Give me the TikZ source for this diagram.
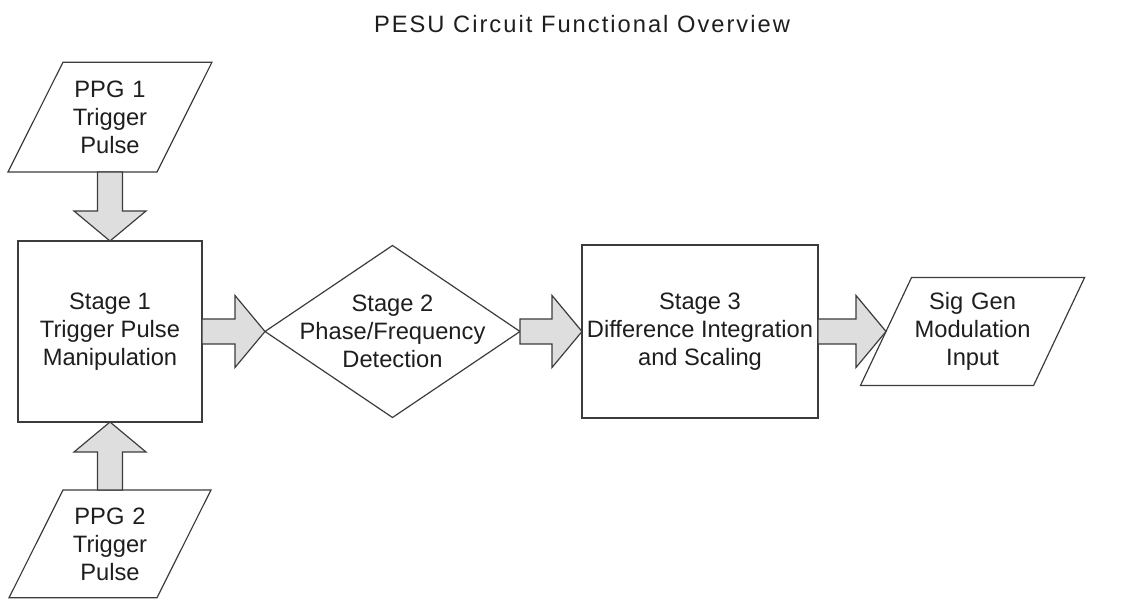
\documentclass[tikz,border=0pt]{standalone}
\usepackage{fontspec}
\setmainfont{Liberation Sans}
\usepackage{tikz}
\usetikzlibrary{positioning,shapes.geometric,calc}
\definecolor{pesuline}{HTML}{3C3C3C}
\definecolor{pesufill}{HTML}{DEDEDE}
\definecolor{pesutext}{HTML}{1E1E1E}
% fat block arrow from #1 to the tip #2 (shaft 25pt, head 72pt x 30pt)
\newcommand{\fatarrow}[2]{%
  \draw[fat] let \p1=($(#2)!30pt!(#1)$) in
    ($(#1)!12.5pt!90:(#2)$) -- ($(\p1)!12.5pt!-90:(#1)$) -- ($(\p1)!36pt!-90:(#1)$)
    -- (#2) -- ($(\p1)!36pt!90:(#1)$) -- ($(\p1)!12.5pt!90:(#1)$)
    -- ($(#1)!12.5pt!-90:(#2)$) -- cycle;}

\begin{document}
\begin{tikzpicture}[x=1pt,y=1pt,font=\fontsize{23.7}{28}\selectfont,text=pesutext,
  stagebox/.style={draw=pesuline,line width=1.2pt,outer sep=0pt,align=center,minimum width=184pt,minimum height=181pt},
  io/.style={trapezium,trapezium left angle=63.4,trapezium right angle=116.6,draw=pesuline,line width=1.2pt,
    text width=94pt,inner xsep=0pt,inner ysep=18.5pt,align=center,outer sep=0pt},
  decision/.style={diamond,draw=pesuline,line width=1.2pt,minimum width=255pt,minimum height=172pt,
    inner xsep=-90pt,inner ysep=-38pt,align=center,outer sep=0pt},
  fat/.style={draw=pesuline,fill=pesufill,line width=1.2pt,line join=miter}]
  \useasboundingbox (0,0) rectangle (1129,601);
  \node[anchor=base,font=\fontsize{23.7}{28}\selectfont\addfontfeature{LetterSpace=8.5}] (title) at (582,568) {PESU Circuit Functional Overview};
  \node[stagebox] (s1) at (110,269.5) {Stage 1\\Trigger Pulse\\Manipulation};
  \node[io,above=69pt of s1] (ppg1) {PPG 1\\Trigger\\Pulse};
  \node[io,inner ysep=17.5pt,below=68pt of s1] (ppg2) {PPG 2\\Trigger\\Pulse};
  \node[decision,right=63pt of s1] (s2) {Stage 2\\Phase/Frequency\\Detection};
  \node[stagebox,minimum width=236pt,minimum height=173pt,right=62pt of s2] (s3) {Stage 3\\Difference Integration\\and Scaling};
  \node[io,trapezium left angle=64.7,trapezium right angle=115.3,text width=122pt,inner ysep=15pt,right=68pt of s3] (sig) {Sig Gen\\Modulation\\Input};
  \fatarrow{s1.north |- ppg1.south}{s1.north}
  \fatarrow{s1.south |- ppg2.north}{s1.south}
  \fatarrow{s1.east}{s2.west}
  \fatarrow{s2.east}{s3.west}
  \fatarrow{s3.east}{sig.west}
\end{tikzpicture}
\end{document}
